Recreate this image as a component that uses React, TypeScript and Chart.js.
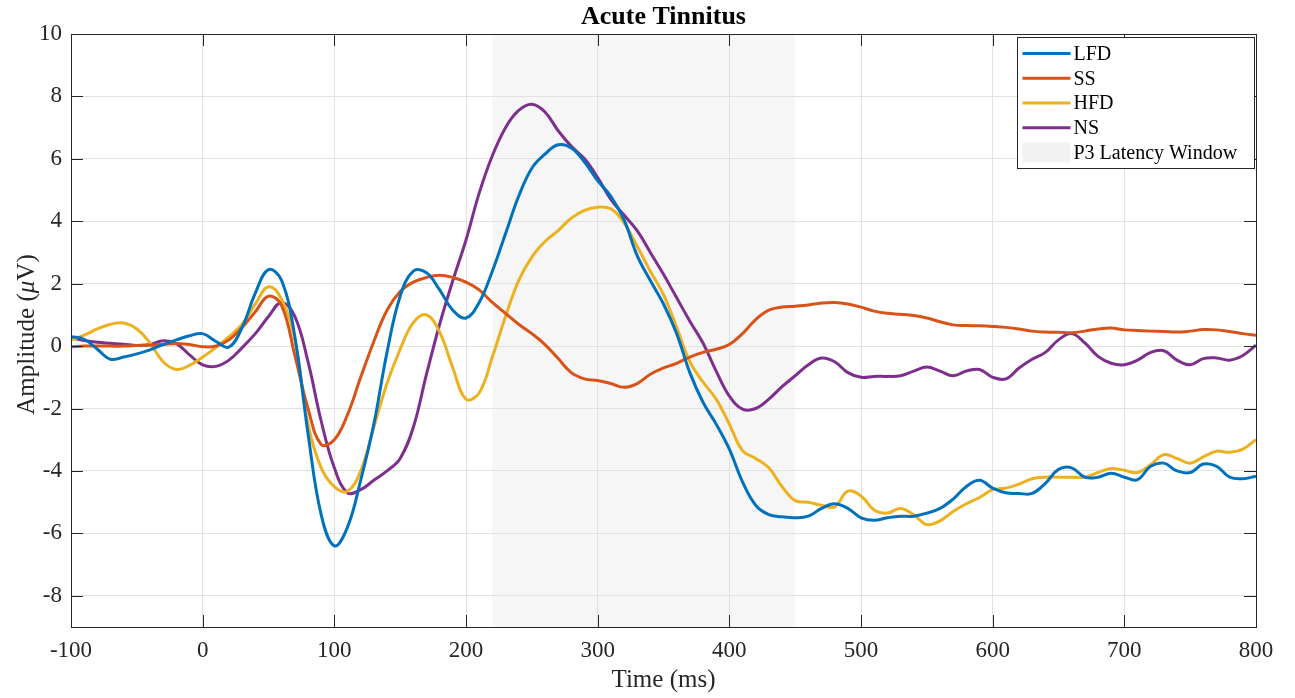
import React, { useEffect, useRef } from 'react';
import { Chart, registerables } from 'chart.js';

Chart.register(...registerables);

// Sampling grid (ms), one sample every 10 ms from -100 to 800
const timeMs: number[] = Array.from({ length: 91 }, (_, i) => -100 + i * 10);

// Grand-average ERP amplitudes (µV) per condition
const lfd = [
  0.3, 0.22, -0.1, -0.42, -0.35, -0.25, -0.12, 0.05, 0.2, 0.33,
  0.4, 0.15, -0.03, 0.6, 1.7, 2.45, 2.1, 0.3, -2.8, -5.4,
  -6.4, -5.8, -4.3, -2.5, -0.2, 1.6, 2.4, 2.35, 1.8, 1.15,
  0.9, 1.4, 2.4, 3.6, 4.8, 5.7, 6.15, 6.45, 6.35, 5.9,
  5.3, 4.8, 4.05, 2.9, 2.1, 1.35, 0.4, -0.85, -1.8, -2.5,
  -3.3, -4.35, -5.1, -5.4, -5.47, -5.5, -5.45, -5.2, -5.05, -5.2,
  -5.5, -5.58, -5.5, -5.45, -5.45, -5.35, -5.2, -4.9, -4.5, -4.3,
  -4.55, -4.7, -4.72, -4.72, -4.4, -3.95, -3.9, -4.2, -4.2, -4.07,
  -4.2, -4.28, -3.85, -3.75, -4.0, -4.05, -3.78, -3.85, -4.2, -4.25,
  -4.17,
];
const ss = [
  -0.02, 0.0, 0.0, 0.0, 0.0, 0.02, 0.03, 0.05, 0.08, 0.05,
  -0.02, 0.0, 0.2, 0.6, 1.1, 1.6, 1.3, -0.3, -2.0, -3.15,
  -3.0, -2.2, -1.0, 0.15, 1.15, 1.75, 2.05, 2.2, 2.27, 2.2,
  2.05, 1.8, 1.4, 1.05, 0.7, 0.4, 0.05, -0.4, -0.85, -1.05,
  -1.1, -1.2, -1.32, -1.2, -0.9, -0.7, -0.55, -0.35, -0.2, -0.1,
  0.05, 0.4, 0.85, 1.15, 1.25, 1.28, 1.32, 1.38, 1.4, 1.35,
  1.25, 1.12, 1.05, 1.02, 0.98, 0.9, 0.78, 0.68, 0.66, 0.65,
  0.63, 0.6, 0.55, 0.48, 0.45, 0.44, 0.43, 0.48, 0.55, 0.58,
  0.52, 0.5, 0.48, 0.47, 0.45, 0.48, 0.53, 0.52, 0.47, 0.4,
  0.35,
];
const hfd = [
  0.2, 0.35, 0.55, 0.7, 0.74, 0.55, 0.1, -0.5, -0.75, -0.62,
  -0.35, -0.05, 0.3, 0.7, 1.35, 1.9, 1.5, 0.2, -2.5, -3.9,
  -4.5, -4.65, -4.0, -2.6, -1.2, -0.1, 0.75, 1.0, 0.45, -0.7,
  -1.7, -1.5, -0.35, 0.95, 2.1, 2.85, 3.35, 3.7, 4.1, 4.35,
  4.45, 4.4, 3.95, 3.2, 2.4, 1.65, 0.6, -0.5, -1.15, -1.7,
  -2.5, -3.35, -3.6, -3.9, -4.5, -4.95, -5.0, -5.1, -5.15, -4.65,
  -4.8, -5.25, -5.35, -5.2, -5.4, -5.72, -5.6, -5.3, -5.05, -4.85,
  -4.6, -4.55, -4.42, -4.25, -4.2, -4.2, -4.2, -4.2, -4.05, -3.92,
  -3.98, -4.05, -3.8, -3.48, -3.6, -3.75, -3.55, -3.37, -3.4, -3.3,
  -3.0,
];
const ns = [
  0.27, 0.18, 0.12, 0.09, 0.06, 0.02, 0.05, 0.17, 0.08, -0.28,
  -0.6, -0.65, -0.45, -0.05, 0.4, 0.95, 1.4, 0.95, -0.5, -2.4,
  -3.9, -4.7, -4.6, -4.3, -4.0, -3.6, -2.6, -0.9, 0.7, 2.1,
  3.4, 4.9, 6.1, 7.0, 7.55, 7.75, 7.5, 6.9, 6.4, 6.0,
  5.4, 4.7, 4.2, 3.7, 3.0, 2.3, 1.55, 0.8, 0.1, -0.8,
  -1.6, -2.02, -2.0, -1.7, -1.3, -0.95, -0.6, -0.38, -0.5, -0.85,
  -1.0, -0.97, -0.97, -0.95, -0.8, -0.67, -0.8, -0.95, -0.8, -0.75,
  -1.0, -1.05, -0.7, -0.42, -0.2, 0.2, 0.4, 0.1, -0.33, -0.55,
  -0.6, -0.45, -0.2, -0.15, -0.45, -0.6, -0.4, -0.38, -0.45, -0.3,
  0.03,
];

const seriesNames = ['LFD', 'SS', 'HFD', 'NS'];
const seriesValues = [lfd, ss, hfd, ns];
const seriesColors = ['#0072BD', '#D95319', '#EDB120', '#7E2F8E'];

const xTicks = [-100, 0, 100, 200, 300, 400, 500, 600, 700, 800];
const yTicks = [-8, -6, -4, -2, 0, 2, 4, 6, 8, 10];
const p3Window = [220, 450];
const p3Label = 'P3 Latency Window';

const chartTitle = 'Acute Tinnitus';
const xTitle = 'Time (ms)';

const SERIF = '"Liberation Serif", "Times New Roman", Times, serif';
const AXIS_COLOR = '#262626';
const SHADE = '#f6f6f6';

const decorations = {
  id: 'decorations',
  beforeDraw(chart: any) {
    const { ctx, chartArea: a, scales } = chart;
    ctx.save();
    ctx.fillStyle = '#ffffff';
    ctx.fillRect(0, 0, chart.width, chart.height);
    const x0 = scales.x.getPixelForValue(p3Window[0]);
    const x1 = scales.x.getPixelForValue(p3Window[1]);
    ctx.fillStyle = SHADE;
    ctx.fillRect(x0, a.top, x1 - x0, a.bottom - a.top);
    ctx.restore();
  },
  afterDraw(chart: any) {
    const { ctx, chartArea: a, scales } = chart;
    ctx.save();

    // axes box
    ctx.strokeStyle = AXIS_COLOR;
    ctx.lineWidth = 1;
    ctx.strokeRect(Math.round(a.left) + 0.5, Math.round(a.top) + 0.5,
      Math.round(a.right - a.left), Math.round(a.bottom - a.top));

    // inward tick marks on all four sides
    const tl = 12;
    ctx.beginPath();
    xTicks.forEach((v) => {
      const px = Math.round(scales.x.getPixelForValue(v)) + 0.5;
      ctx.moveTo(px, a.bottom);
      ctx.lineTo(px, a.bottom - tl);
      ctx.moveTo(px, a.top);
      ctx.lineTo(px, a.top + tl);
    });
    yTicks.forEach((v) => {
      const py = Math.round(scales.y.getPixelForValue(v)) + 0.5;
      ctx.moveTo(a.left, py);
      ctx.lineTo(a.left + tl, py);
      ctx.moveTo(a.right, py);
      ctx.lineTo(a.right - tl, py);
    });
    ctx.stroke();

    const cx = (a.left + a.right) / 2;

    // title
    ctx.fillStyle = '#000000';
    ctx.font = `bold 26px ${SERIF}`;
    ctx.textAlign = 'center';
    ctx.textBaseline = 'middle';
    ctx.fillText(chartTitle, cx, 17);

    // x-axis title
    ctx.fillStyle = AXIS_COLOR;
    ctx.font = `25px ${SERIF}`;
    ctx.fillText(xTitle, cx, 680);

    // y-axis title with italic mu
    ctx.save();
    ctx.translate(27, (a.top + a.bottom) / 2 + 4);
    ctx.rotate(-Math.PI / 2);
    const parts = [
      { t: 'Amplitude (', f: `25px ${SERIF}` },
      { t: '\u03bc', f: `italic 25px ${SERIF}` },
      { t: 'V)', f: `25px ${SERIF}` },
    ];
    let total = 0;
    parts.forEach((p) => { ctx.font = p.f; total += ctx.measureText(p.t).width; });
    let xx = -total / 2;
    ctx.textAlign = 'left';
    parts.forEach((p) => {
      ctx.font = p.f;
      ctx.fillText(p.t, xx, 0);
      xx += ctx.measureText(p.t).width;
    });
    ctx.restore();

    // legend
    const bw = 237, bh = 131;
    const bx = Math.round(a.right - 2 - bw) + 0.5;
    const by = Math.round(a.top + 3) + 0.5;
    ctx.fillStyle = '#ffffff';
    ctx.fillRect(bx, by, bw, bh);
    ctx.strokeStyle = AXIS_COLOR;
    ctx.lineWidth = 1;
    ctx.strokeRect(bx, by, bw, bh);
    ctx.font = `20px ${SERIF}`;
    ctx.textAlign = 'left';
    ctx.textBaseline = 'middle';
    const rowH = 24.75;
    seriesNames.forEach((name, i) => {
      const ry = by + 16 + i * rowH;
      ctx.strokeStyle = seriesColors[i];
      ctx.lineWidth = 3;
      ctx.beginPath();
      ctx.moveTo(bx + 5, ry);
      ctx.lineTo(bx + 53, ry);
      ctx.stroke();
      ctx.fillStyle = '#000000';
      ctx.fillText(name, bx + 56, ry + 1);
    });
    const py = by + 16 + 4 * rowH;
    ctx.fillStyle = '#f2f2f2';
    ctx.fillRect(bx + 5, py - 10, 48, 20);
    ctx.fillStyle = '#000000';
    ctx.fillText(p3Label, bx + 56, py + 1);

    ctx.restore();
  },
};

export default function App() {
  const canvasRef = useRef<HTMLCanvasElement | null>(null);

  useEffect(() => {
    const canvas = canvasRef.current;
    if (!canvas) return;
    const chart = new Chart(canvas, {
      type: 'line',
      data: {
        datasets: seriesNames.map((name, i) => ({
          label: name,
          data: timeMs.map((t, j) => ({ x: t, y: seriesValues[i][j] })),
          borderColor: seriesColors[i],
          backgroundColor: seriesColors[i],
          borderWidth: 3,
          pointRadius: 0,
          tension: 0.4,
          fill: false,
        })),
      },
      options: {
        responsive: false,
        animation: false,
        devicePixelRatio: 1,
        layout: { padding: { top: 34, right: 39, left: 0, bottom: 0 } },
        plugins: {
          legend: { display: false },
          title: { display: false },
          tooltip: { enabled: false },
        },
        scales: {
          x: {
            type: 'linear',
            min: -100,
            max: 800,
            afterBuildTicks: (s: any) => { s.ticks = xTicks.map((v) => ({ value: v })); },
            afterFit: (s: any) => { s.height = 71; },
            grid: { color: '#e2e2e2', lineWidth: 1, drawTicks: false },
            border: { display: false },
            ticks: {
              padding: 10,
              color: AXIS_COLOR,
              font: { family: SERIF, size: 23 },
              maxRotation: 0,
              autoSkip: false,
              callback: (v: any) => String(v),
            },
          },
          y: {
            type: 'linear',
            min: -9,
            max: 10,
            afterBuildTicks: (s: any) => { s.ticks = yTicks.map((v) => ({ value: v })); },
            afterFit: (s: any) => { s.width = 71; },
            grid: { color: '#e2e2e2', lineWidth: 1, drawTicks: false },
            border: { display: false },
            ticks: {
              padding: 9,
              color: AXIS_COLOR,
              font: { family: SERIF, size: 23 },
              autoSkip: false,
              callback: (v: any) => String(v),
            },
          },
        },
      },
      plugins: [decorations],
    });
    return () => chart.destroy();
  }, []);

  return (
    <div style={{ position: 'absolute', left: 0, top: 0, width: 1295, height: 698 }}>
      <canvas ref={canvasRef} width={1295} height={698} />
    </div>
  );
}
